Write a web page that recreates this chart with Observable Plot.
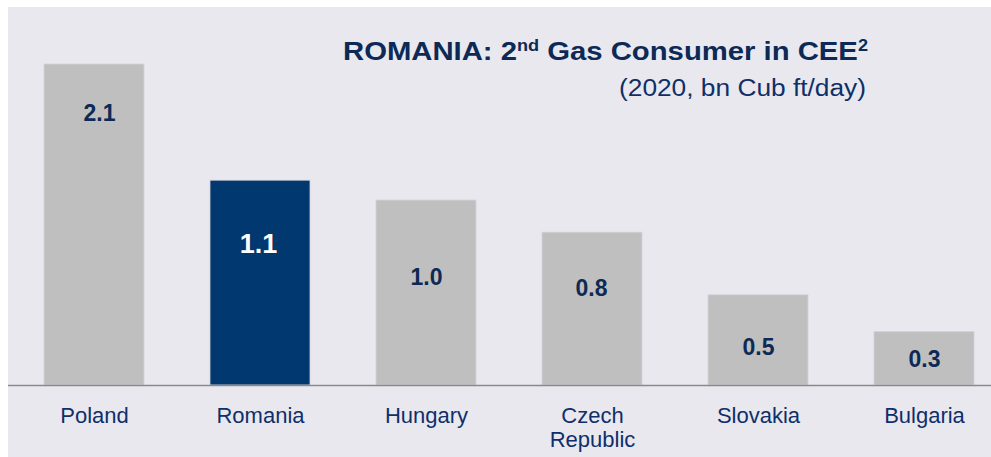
<!DOCTYPE html>
<html>
<head>
<meta charset="utf-8">
<script src="https://cdn.jsdelivr.net/npm/d3@7"></script>
<script src="https://cdn.jsdelivr.net/npm/@observablehq/plot@0.6"></script>
<style>
  html, body { margin: 0; padding: 0; background: #ffffff; }
  #wrap { position: relative; width: 991px; height: 457px; overflow: hidden; font-family: "Liberation Sans", Arial, Helvetica, sans-serif; }
  #bg { position: absolute; left: 8px; top: 7px; right: 0; bottom: 0; background: #eae8ef; }
  #chart { position: absolute; left: 0; top: 0; }
  #title { position: absolute; left: 343px; top: 38px; font-size: 26.5px; font-weight: bold; color: #0c2a55; line-height: 1; white-space: nowrap; transform-origin: 0 0; }
  #subtitle { position: absolute; left: 619px; top: 77px; font-size: 23px; color: #0f2f66; line-height: 1; white-space: nowrap; transform-origin: 0 0; }
  sup { font-size: 0.62em; position: relative; top: -0.55em; vertical-align: baseline; line-height: 0; }
</style>
</head>
<body>
<div id="wrap">
  <div id="bg"></div>
  <div id="chart"></div>
  <div id="title">ROMANIA: 2<sup>nd</sup> Gas Consumer in CEE<sup>2</sup></div>
  <div id="subtitle">(2020, bn Cub ft/day)</div>
</div>
<script>
// ---- data ----
const countries = ["Poland", "Romania", "Hungary", "Czech Republic", "Slovakia", "Bulgaria"];
const barValues = [2.1, 1.34, 1.21, 1.0, 0.59, 0.35];          // bar heights as drawn
const valueLabels = ["2.1", "1.1", "1.0", "0.8", "0.5", "0.3"]; // labels as printed
const highlighted = "Romania";

// ---- layout / style ----
const labelDy = [49, 64, 77, 56, 52, 28];
const labelDx = [5, -2, 0, -1, 0, 0];
const navy = "#00386f";
const grey = "#bfbfbf";
const textNavy = "#0c2a55";
const axisNavy = "#0f2f6b";

const data = countries.map((c, i) => ({ country: c, value: barValues[i], label: valueLabels[i], i }));

const labelMarks = data.map(d => Plot.text([d], {
  x: "country",
  y: "value",
  text: "label",
  dy: labelDy[d.i],
  dx: labelDx[d.i],
  fill: d.country === highlighted ? "#ffffff" : textNavy,
  fontSize: d.country === highlighted ? 27 : 23,
  fontWeight: "bold",
  fontFamily: "Liberation Sans, Arial, sans-serif"
}));

const chart = Plot.plot({
  width: 991,
  height: 457,
  marginTop: 64,
  marginBottom: 72,
  marginLeft: 8,
  marginRight: 0,
  style: { background: "transparent", fontFamily: "Liberation Sans, Arial, sans-serif", overflow: "visible" },
  x: { type: "band", domain: countries, range: [33.7, 984.3], paddingInner: 0.4, paddingOuter: 0.05, axis: null },
  y: { domain: [0, 2.1], axis: null },
  marks: [
    Plot.barY(data, {
      x: "country",
      y: "value",
      fill: d => d.country === highlighted ? navy : grey,
      stroke: "#d4d3d8",
      strokeWidth: 0.8
    }),
    Plot.ruleY([0], { stroke: "#8a8a8a", strokeWidth: 1.6 }),
    Plot.axisX({
      tickSize: 0,
      tickPadding: 20,
      fontSize: 22,
      fill: axisNavy,
      lineHeight: 1.1,
      label: null,
      tickFormat: d => d === "Czech Republic" ? "Czech\nRepublic" : d
    }),
    ...labelMarks
  ]
});
document.getElementById("chart").appendChild(chart);

// fit title/subtitle widths to the reference extents
function fitWidth(id, target) {
  const el = document.getElementById(id);
  const w = el.getBoundingClientRect().width;
  if (w > 0) el.style.transform = `scaleX(${target / w})`;
}
fitWidth("title", 525);
fitWidth("subtitle", 247);
</script>
</body>
</html>
